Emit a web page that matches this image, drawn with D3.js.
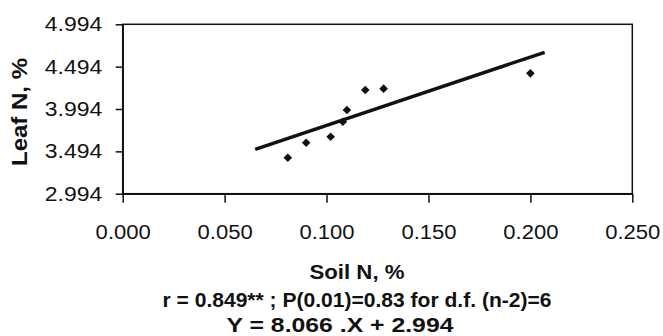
<!DOCTYPE html>
<html>
<head>
<meta charset="utf-8">
<script src="https://cdn.jsdelivr.net/npm/d3@7"></script>
<style>
  html, body { margin: 0; padding: 0; background: #fff; }
  svg { display: block; font-family: Arial, "Liberation Sans", sans-serif; }
</style>
</head>
<body>
<svg id="chart" width="663" height="336"></svg>
<script>
// ---- data ----
const soilN = [0.081, 0.090, 0.102, 0.108, 0.110, 0.119, 0.128, 0.200];
const leafN = [3.419, 3.596, 3.667, 3.844, 3.982, 4.218, 4.234, 4.415];
const xTicks = [0.000, 0.050, 0.100, 0.150, 0.200, 0.250];
const yTicks = [2.994, 3.494, 3.994, 4.494, 4.994];
const trendSlope = 8.066;
const trendIntercept = 2.994;
const trendRange = [0.065, 0.207];
const xTitle = "Soil N, %";
const yTitle = "Leaf N, %";
const statLine = "r = 0.849** ; P(0.01)=0.83 for d.f. (n-2)=6";
const eqLine = "Y = 8.066 .X + 2.994";

const svg = d3.select("#chart");
const L = 122.7, R = 632.3, T = 24.3, B = 193.7;

const x = d3.scaleLinear().domain([0, 0.25]).range([L, R]);
const y = d3.scaleLinear().domain([2.994, 4.994]).range([B, T]);

function stretch(sel, f) {
  sel.each(function () {
    const w = this.getComputedTextLength();
    d3.select(this).attr("textLength", w * f).attr("lengthAdjust", "spacingAndGlyphs");
  });
}

// plot frame
svg.append("rect")
  .attr("x", L).attr("y", T).attr("width", R - L).attr("height", B - T)
  .attr("fill", "none").attr("stroke", "#111").attr("stroke-width", 1.5);

// x axis
const gx = svg.append("g").attr("transform", `translate(0,${B})`)
  .call(d3.axisBottom(x).tickValues(xTicks).tickFormat(d3.format(".3f"))
    .tickSize(9).tickSizeOuter(0));
gx.select(".domain").attr("stroke", "#111").attr("stroke-width", 1.5);
gx.selectAll(".tick line").attr("stroke", "#111").attr("stroke-width", 1.5);
gx.selectAll(".tick text")
  .attr("y", 45.8).attr("dy", "0")
  .style("font-size", "19.5px").attr("fill", "#111")
  .call(stretch, 1.13);

// y axis
const gy = svg.append("g").attr("transform", `translate(${L},0)`)
  .call(d3.axisLeft(y).tickValues(yTicks).tickFormat(d3.format(".3f"))
    .tickSize(7).tickSizeOuter(0).tickPadding(13.5));
gy.select(".domain").attr("stroke", "#111").attr("stroke-width", 1.5);
gy.selectAll(".tick line").attr("stroke", "#111").attr("stroke-width", 1.5);
gy.selectAll(".tick text")
  .style("font-size", "20.5px").attr("fill", "#111")
  .call(stretch, 1.12);

// trend line
const line = d3.line().x(d => x(d)).y(d => y(trendSlope * d + trendIntercept));
svg.append("path")
  .datum(trendRange)
  .attr("d", line)
  .attr("fill", "none").attr("stroke", "#111").attr("stroke-width", 3.4);

// points (diamonds)
const pts = soilN.map((v, i) => [v, leafN[i]]);
svg.append("g").selectAll("path").data(pts).join("path")
  .attr("transform", d => `translate(${x(d[0])},${y(d[1])})`)
  .attr("d", "M0,-4.3L4.3,0L0,4.3L-4.3,0Z")
  .attr("fill", "#111");

// y title
svg.append("text")
  .attr("transform", "translate(27,112) rotate(-90)")
  .attr("text-anchor", "middle")
  .style("font-size", "22px").style("font-weight", "bold").attr("fill", "#111")
  .text(yTitle)
  .attr("textLength", 108).attr("lengthAdjust", "spacingAndGlyphs");

// bottom titles
svg.append("text")
  .attr("x", 357).attr("y", 279).attr("text-anchor", "middle")
  .style("font-size", "21px").style("font-weight", "bold").attr("fill", "#111")
  .text(xTitle).attr("textLength", 95).attr("lengthAdjust", "spacingAndGlyphs");
svg.append("text")
  .attr("x", 357).attr("y", 306.5).attr("text-anchor", "middle")
  .style("font-size", "20.5px").style("font-weight", "bold").attr("fill", "#111")
  .text(statLine).attr("textLength", 389).attr("lengthAdjust", "spacingAndGlyphs");
svg.append("text")
  .attr("x", 340).attr("y", 331.5).attr("text-anchor", "middle")
  .style("font-size", "20.5px").style("font-weight", "bold").attr("fill", "#111")
  .text(eqLine).attr("textLength", 227).attr("lengthAdjust", "spacingAndGlyphs");
</script>
</body>
</html>
